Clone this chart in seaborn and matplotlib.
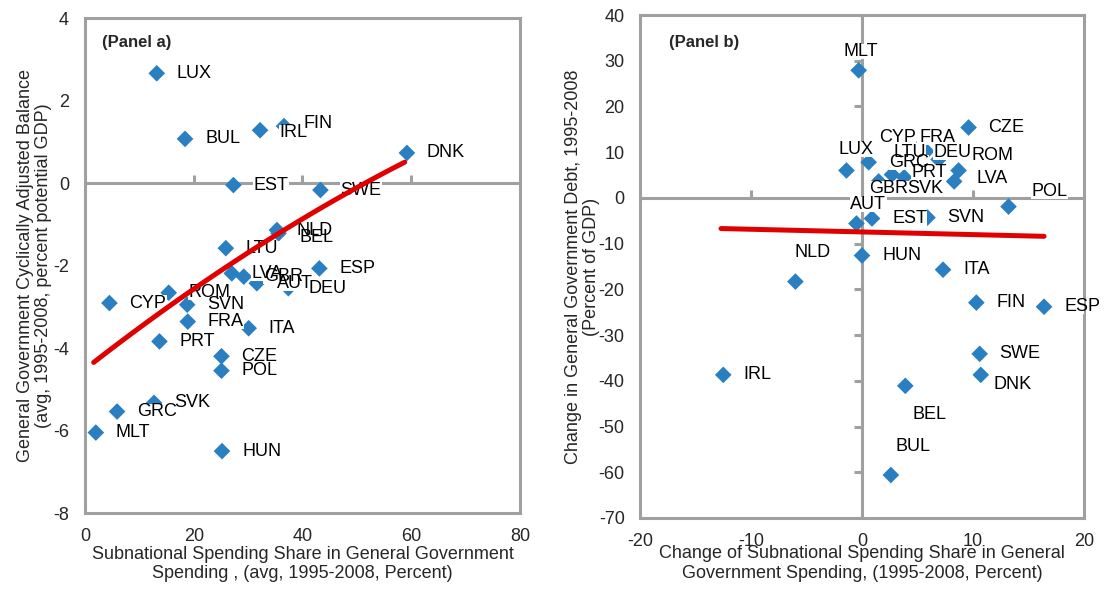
import numpy as np
import pandas as pd
import matplotlib
matplotlib.use("Agg")
import matplotlib.pyplot as plt
from matplotlib.patches import Rectangle
import seaborn as sns

# Panel a: subnational spending share vs cyclically adjusted balance
a_country = ["LUX", "BUL", "IRL", "FIN", "DNK", "EST", "SWE", "NLD", "BEL", "LTU",
             "ESP", "LVA", "GBR", "AUT", "DEU", "ROM", "CYP", "SVN", "FRA", "ITA",
             "PRT", "CZE", "POL", "GRC", "SVK", "MLT", "HUN"]
a_share = [13.2, 18.4, 32.2, 36.6, 59.2, 27.3, 43.3, 35.3, 35.6, 25.9,
           43.1, 27.0, 29.2, 31.6, 37.4, 15.4, 4.5, 18.8, 18.9, 30.1,
           13.7, 25.1, 25.1, 5.9, 12.7, 2.0, 25.2]
a_balance = [2.66, 1.07, 1.28, 1.38, 0.73, -0.05, -0.17, -1.14, -1.22, -1.58,
             -2.07, -2.19, -2.27, -2.43, -2.55, -2.66, -2.91, -2.95, -3.36, -3.52,
             -3.84, -4.20, -4.55, -5.54, -5.33, -6.05, -6.50]
# trend line
a_trend_x = [1.6, 18.4, 27.0, 36.2, 58.8]
a_trend_y = [-4.33, -2.75, -1.99, -1.10, 0.49]

# Panel b: change in spending share vs change in debt
b_country = ["MLT", "CZE", "CYP", "FRA", "LUX", "LTU", "DEU", "ROM", "LVA", "GRC",
             "PRT", "GBR", "SVK", "POL", "AUT", "EST", "SVN", "NLD", "HUN", "ITA",
             "FIN", "ESP", "SWE", "DNK", "IRL", "BEL", "BUL"]
b_share = [-0.3, 9.6, 4.2, 5.8, -1.4, 0.6, 6.9, 8.7, 8.3, 2.7,
           3.8, 1.5, 1.8, 13.2, -0.5, 0.9, 5.9, -6.0, 0.0, 7.3,
           10.3, 16.4, 10.6, 10.7, -12.5, 3.9, 2.6]
b_debt = [27.9, 15.4, 12.2, 10.2, 6.0, 7.8, 8.4, 6.0, 3.6, 5.1,
          4.5, 3.6, 2.3, -1.9, -5.6, -4.5, -4.3, -18.3, -12.6, -15.7,
          -22.9, -23.8, -34.1, -38.7, -38.7, -41.1, -60.6]
b_trend_x = [-12.7, 16.4]
b_trend_y = [-6.7, -8.4]

# label offsets in pixels (right, up)
a_offset = {"FIN": (19, 3), "IRL": (19, -2), "BEL": (21, -4)}
b_offset = {"MLT": (-15, 19), "CYP": (-30, 5), "FRA": (-7, 14), "LUX": (-8, 21),
            "LTU": (25, 10), "DEU": (-5, 7), "ROM": (13, 15), "LVA": (22, 3),
            "GRC": (-3, 12), "PRT": (7, 5), "GBR": (-10, -7), "SVK": (25, -1),
            "POL": (23, 15), "AUT": (-6, 19), "NLD": (-1, 29), "DNK": (13, -10),
            "BEL": (7, -29), "BUL": (5, 29)}

sns.set_style("white")
plt.rcParams["font.family"] = ["Liberation Sans", "DejaVu Sans"]
plt.rcParams["axes.unicode_minus"] = False

GRAY = "#a0a0a0"
BLUE = "#2a7fc1"
RED = "#e00000"
PX = 0.72  # pixels -> points at dpi 100
FS = 13

fig = plt.figure(figsize=(11.05, 5.93), dpi=100)
ax1 = fig.add_axes([0.0769, 0.1349, 0.3937, 0.8347])
ax2 = fig.add_axes([0.5792, 0.1265, 0.4018, 0.8482])

df_a = pd.DataFrame({"country": a_country, "x": a_share, "y": a_balance})
df_b = pd.DataFrame({"country": b_country, "x": b_share, "y": b_debt})


def style_frame(ax):
    for sp in ax.spines.values():
        sp.set_color(GRAY)
        sp.set_linewidth(2.2)


def put_labels(ax, df, offsets):
    texts = []
    for _, r in df.iterrows():
        dx, dy = offsets.get(r["country"], (20, 0))
        t = ax.annotate(r["country"], (r["x"], r["y"]), xytext=(dx * PX, dy * PX),
                        textcoords="offset points", ha="left", va="center",
                        fontsize=FS, color="black", zorder=4)
        texts.append(t)
    return texts


def white_boxes(ax, texts):
    # white fill behind each label (hides markers/axis lines, not other labels)
    fig.canvas.draw()
    inv = ax.transData.inverted()
    for t in texts:
        bb = t.get_window_extent().expanded(1.02, 0.9)
        (x0, y0), (x1, y1) = inv.transform([[bb.x0, bb.y0], [bb.x1, bb.y1]])
        ax.add_patch(Rectangle((x0, y0), x1 - x0, y1 - y0, facecolor="white",
                               edgecolor="none", zorder=3.5))


# ---------------- Panel a ----------------
ax1.axhline(0, color=GRAY, lw=2.2, zorder=1)
ax1.plot([20, 40, 60], [0, 0, 0], ls="none", marker=2, ms=6, mew=2.2, color=GRAY, zorder=1)
sns.scatterplot(data=df_a, x="x", y="y", ax=ax1, marker="D", s=72, color=BLUE,
                edgecolor="none", zorder=3)
texts_a = put_labels(ax1, df_a, a_offset)
coef = np.polyfit(a_trend_x, a_trend_y, 2)
tx = np.linspace(a_trend_x[0], a_trend_x[-1], 50)
ax1.plot(tx, np.polyval(coef, tx), color=RED, lw=3.6, solid_capstyle="round", zorder=6)

ax1.set_xlim(0, 80)
ax1.set_ylim(-8, 4)
ax1.set_xticks([0, 20, 40, 60, 80])
ax1.set_yticks([4, 2, 0, -2, -4, -6, -8])
ax1.tick_params(axis="x", length=0, pad=11, labelsize=FS)
ax1.tick_params(axis="y", direction="inout", length=7, width=2.2, color=GRAY, pad=8, labelsize=FS)
style_frame(ax1)
ax1.set_xlabel("Subnational Spending Share in General Government\nSpending , (avg, 1995-2008, Percent)",
               fontsize=FS, linespacing=1.2)
ax1.set_ylabel("General Government Cyclically Adjusted Balance\n(avg, 1995-2008, percent potential GDP)",
               fontsize=FS, linespacing=1.1)
ax1.xaxis.set_label_coords(0.5, -0.066)
ax1.yaxis.set_label_coords(-0.076, 0.5)
ax1.text(0.04, 0.95, "(Panel a)", transform=ax1.transAxes, fontsize=12,
         fontweight="bold", va="center", ha="left")

# ---------------- Panel b ----------------
ax2.axhline(0, color=GRAY, lw=2.2, zorder=1)
ax2.axvline(0, color=GRAY, lw=2.2, zorder=1)
ax2.plot([-10, 10], [0, 0], ls="none", marker=2, ms=6, mew=2.2, color=GRAY, zorder=1)
yt = [30, 20, 10, -10, -20, -30, -40, -50, -60]
ax2.plot([0] * len(yt), yt, ls="none", marker=0, ms=6, mew=2.2, color=GRAY, zorder=1)
sns.scatterplot(data=df_b, x="x", y="y", ax=ax2, marker="D", s=72, color=BLUE,
                edgecolor="none", zorder=3)
texts_b = put_labels(ax2, df_b, b_offset)
ax2.plot(b_trend_x, b_trend_y, color=RED, lw=3.6, solid_capstyle="round", zorder=6)

ax2.set_xlim(-20, 20)
ax2.set_ylim(-70, 40)
ax2.set_xticks([-20, -10, 0, 10, 20])
ax2.set_yticks(list(range(40, -71, -10)))
ax2.tick_params(axis="both", length=0, pad=11, labelsize=FS)
style_frame(ax2)
ax2.set_xlabel("Change of Subnational Spending Share in General\nGovernment Spending, (1995-2008, Percent)",
               fontsize=FS, linespacing=1.2)
ax2.set_ylabel("Change in General Government Debt, 1995-2008\n(Percent of GDP)",
               fontsize=FS, linespacing=1.1)
ax2.xaxis.set_label_coords(0.5, -0.054)
ax2.yaxis.set_label_coords(-0.09, 0.5)
ax2.text(0.065, 0.945, "(Panel b)", transform=ax2.transAxes, fontsize=12,
         fontweight="bold", va="center", ha="left")

white_boxes(ax1, texts_a)
white_boxes(ax2, texts_b)

fig.savefig("out.png", dpi=100)
